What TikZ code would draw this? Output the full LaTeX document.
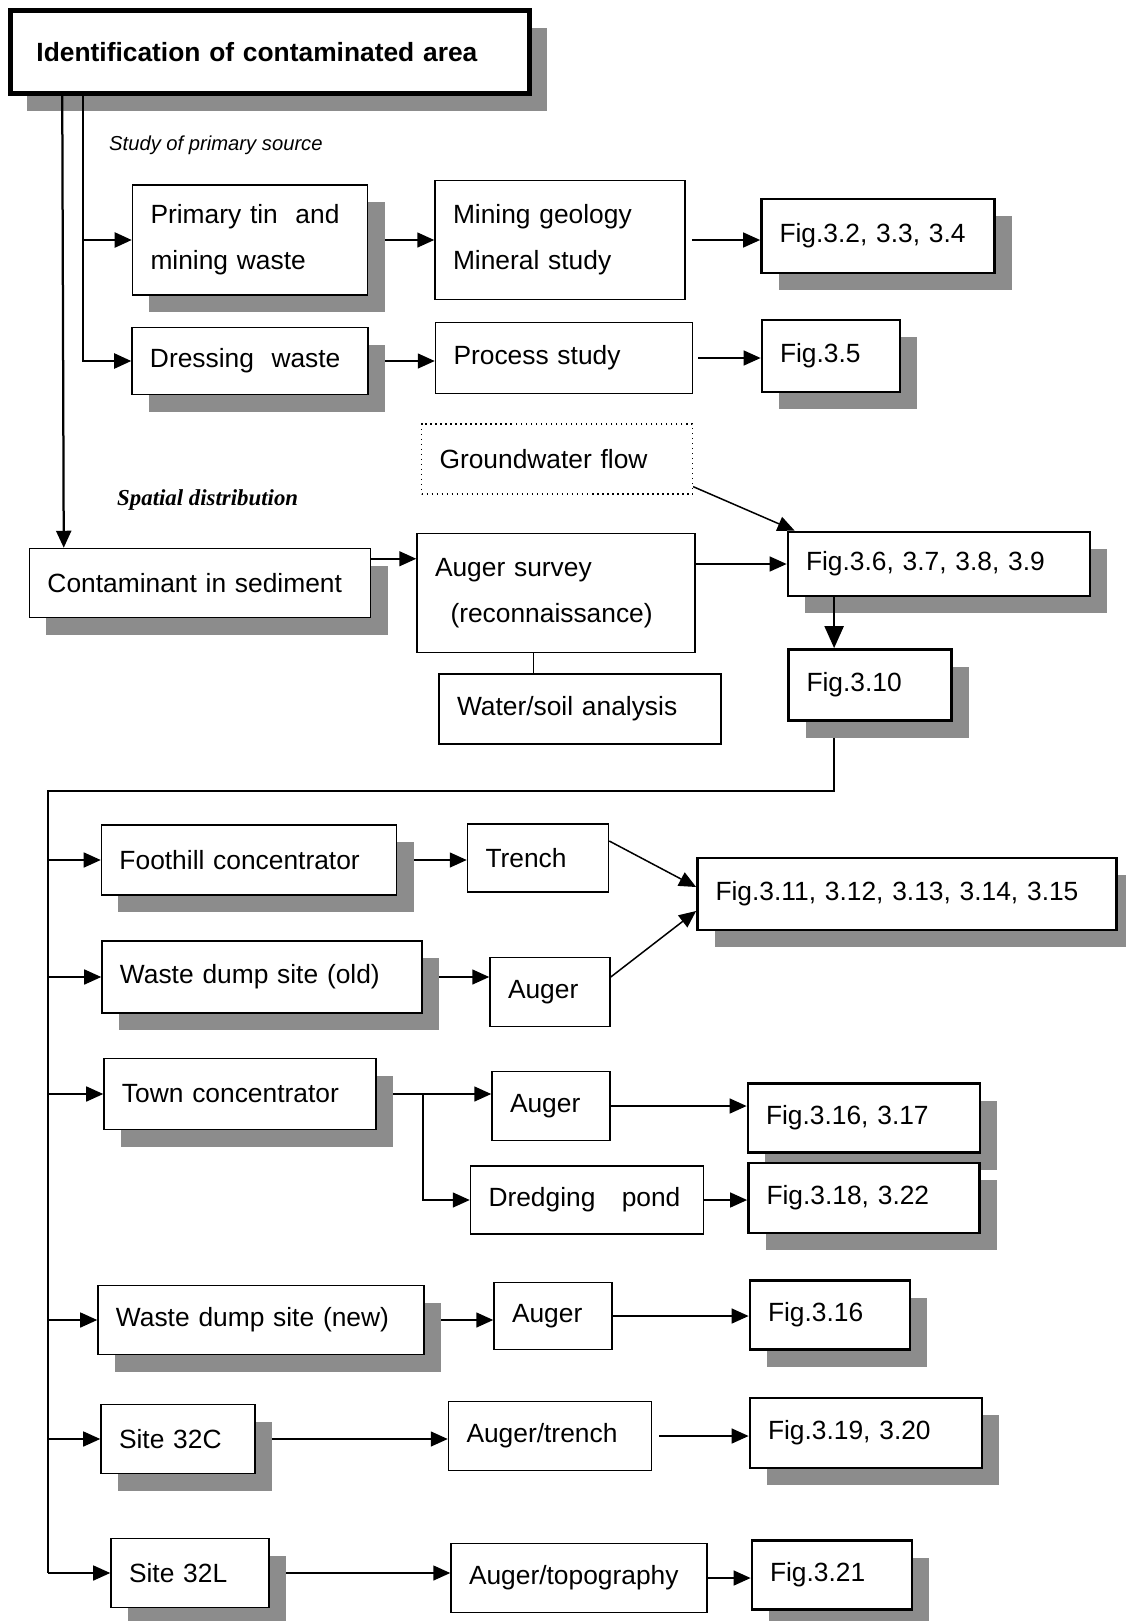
\documentclass[tikz,border=0pt]{standalone}
\usepackage{fontspec}
\setmainfont{Liberation Serif}
\setsansfont{Liberation Sans}
\usetikzlibrary{arrows.meta,shadows,backgrounds,calc}

\begin{document}
\begin{tikzpicture}[
		x=0.2mm, y=-0.2mm,
		font=\sffamily\fontsize{15}{26}\selectfont,
		% Plain step boxes
		stage/.style={draw, fill=white, line width=0.3mm, inner xsep=3.6mm, inner ysep=0pt, align=left},
		% Boxes carrying the halftone drop shadow
		shadowed/.style={stage, drop shadow={shadow xshift=3.4mm, shadow yshift=-3.4mm, fill=black!45, opacity=1}},
		% Figure reference boxes
		figbox/.style={shadowed, line width=0.55mm},
		% Connectors
		link/.style={line width=0.3mm},
		flow/.style={link, -{Triangle[length=3.4mm, width=3mm]}},
		trunk/.style={line width=0.45mm, -{Triangle[length=3.4mm, width=3mm]}},
		bigflow/.style={line width=0.45mm, -{Triangle[length=4.4mm, width=3.8mm]}},
		headstyle/.style={font=\sffamily\itshape\fontsize{11.5}{14}\selectfont, anchor=west},
		spatialstyle/.style={font=\rmfamily\bfseries\itshape\fontsize{13}{16}\selectfont, anchor=west}
		]
		
		\useasboundingbox (0,0) rectangle (1126,1621);
		
		% =========================================================================
		% TOP: identification and primary source
		% =========================================================================
		\node[shadowed, line width=0.9mm, inner xsep=5.2mm, text width=93.4mm, minimum height=16.6mm,
			font=\sffamily\bfseries\fontsize{15}{18}\selectfont] (title) at (270,52) {Identification of contaminated area};
		
		\node[headstyle] (primary) at (103,145) {Study of primary source};
		
		\node[shadowed, text width=39.8mm, minimum height=22mm] (prim) at (250,240) {Primary tin~~and\\mining waste};
		\node[shadowed, text width=40mm, minimum height=13.4mm] (dress) at (250,361) {Dressing~~waste};
		\node[stage, text width=42.8mm, minimum height=23.8mm] (geo) at (560,240) {Mining geology\\Mineral study};
		\node[stage, text width=44.2mm, minimum height=14.2mm] (proc) at (564,358) {Process study};
		\node[figbox, text width=39.4mm, minimum height=14.8mm] (f32) at (878,236) {Fig.3.2, 3.3, 3.4};
		\node[figbox, text width=20.4mm, minimum height=14.4mm] (f35) at (831,356) {Fig.3.5};
		
		% =========================================================================
		% MIDDLE: spatial distribution
		% =========================================================================
		\node[stage, dotted, line width=0.25mm, text width=47mm, minimum height=14mm] (gw) at (557,459) {Groundwater flow};
		\node[spatialstyle] (spatial) at (111,500) {Spatial distribution};
		\node[shadowed, text width=61mm, minimum height=13.8mm] (cont) at (200,583) {Contaminant in sediment};
		\node[stage, text width=48.4mm, minimum height=23.8mm] (aug) at (556,593) {Auger survey\\\hspace*{3.1mm}(reconnaissance)};
		\node[stage, text width=49.2mm, minimum height=14mm] (water) at (580,709) {Water/soil analysis};
		\node[figbox, text width=53.2mm, minimum height=12.8mm] (f36) at (939,564) {Fig.3.6, 3.7, 3.8, 3.9};
		\node[figbox, text width=25.4mm, minimum height=14.2mm] (f310) at (870,685) {Fig.3.10};
		
		% =========================================================================
		% BOTTOM: sites
		% =========================================================================
		\node[shadowed, text width=51.8mm, minimum height=14mm] (foot) at (249,860) {Foothill concentrator};
		\node[stage, text width=21mm, minimum height=13.6mm] (trench) at (538,858) {Trench};
		\node[figbox, text width=76.6mm, minimum height=14.4mm] (f311) at (907,894) {Fig.3.11, 3.12, 3.13, 3.14, 3.15};
		
		\node[shadowed, text width=56.8mm, minimum height=14.4mm] (old) at (262,977) {Waste dump site (old)};
		\node[stage, text width=16.8mm, minimum height=13.8mm] (aug1) at (550,992) {Auger};
		
		\node[shadowed, text width=47.2mm, minimum height=14.2mm] (town) at (240,1094) {Town concentrator};
		\node[stage, text width=16.4mm, minimum height=13.8mm] (aug2) at (551,1106) {Auger};
		\node[figbox, text width=39.2mm, minimum height=13.8mm] (f316a) at (864,1118) {Fig.3.16, 3.17};
		\node[stage, text width=39.4mm, minimum height=13.6mm] (dredge) at (587,1200) {Dredging~~~pond};
		\node[figbox, text width=39mm, minimum height=14mm] (f318) at (864,1198) {Fig.3.18, 3.22};
		
		\node[shadowed, text width=58mm, minimum height=13.8mm] (new) at (261,1320) {Waste dump site (new)};
		\node[stage, text width=16.4mm, minimum height=13.4mm] (aug3) at (553,1316) {Auger};
		\node[figbox, text width=24.8mm, minimum height=13.8mm] (f316) at (830,1315) {Fig.3.16};
		
		\node[shadowed, text width=23.6mm, minimum height=13.8mm] (s32c) at (178,1439) {Site 32C};
		\node[stage, text width=33.4mm, minimum height=13.8mm] (augtr) at (550,1436) {Auger/trench};
		\node[figbox, text width=39.2mm, minimum height=14mm] (f319) at (866,1433) {Fig.3.19, 3.20};
		
		\node[shadowed, text width=24.4mm, minimum height=13.8mm] (s32l) at (190,1573) {Site 32L};
		\node[stage, text width=44mm, minimum height=13.8mm] (augtopo) at (579,1578) {Auger/topography};
		\node[figbox, text width=24.8mm, minimum height=13.8mm] (f321) at (832,1575) {Fig.3.21};
		
		% =========================================================================
		% CONNECTORS
		% =========================================================================
		\coordinate (contout) at ([yshift=-2.2mm]cont.north east);
		\coordinate (augdown) at ($(aug.south west)+(117,0)$);
		\coordinate (f310in) at ($(f310.north west)+(47,0)$);
		\coordinate (busturn) at (48,791);
		\coordinate (townsplit) at ($(town.east)+(46,0)$);
		
		\draw[trunk] ($(title.south west)+(54,0)$) -- ($(cont.north west)+(35,0)$);
		\draw[trunk] ($(title.south west)+(75,0)$) |- (prim.west);
		\draw[trunk] ($(title.south west)+(75,0)$) |- (dress.west);
		\draw[bigflow] (f36.south -| f310in) -- (f310in);
		
		\begin{scope}[on background layer]
			\fill[white] (0,0) rectangle (1126,1621);
			
			\draw[flow] (prim.east) -- (geo.west);
			\draw[flow] ([xshift=1.2mm]geo.east) -- (geo.east -| f32.west);
			\draw[flow] (dress.east) -- (dress.east -| proc.west);
			\draw[flow] ([xshift=1mm]proc.east) -- (proc.east -| f35.west);
			
			\draw[flow] ([yshift=1.6mm]gw.south east) -- ([xshift=1.6mm]f36.north west);
			\draw[flow] (contout) -- (contout -| aug.west);
			\draw[flow] (aug.east |- f36.west) -- (f36.west);
			\draw[link] (augdown) -- (augdown |- water.north);
			
			\draw[link] (f310.south -| f310in) |- (busturn) -- (busturn |- s32l.west);
			\draw[flow] (busturn |- foot.west) -- (foot.west);
			\draw[flow] (busturn |- old.west) -- (old.west);
			\draw[flow] (busturn |- town.west) -- (town.west);
			\draw[flow] (busturn |- new.west) -- (new.west);
			\draw[flow] (busturn |- s32c.west) -- (s32c.west);
			\draw[flow] (busturn |- s32l.west) -- (s32l.west);
			
			\draw[flow] (foot.east) -- (foot.east -| trench.west);
			\draw[flow] ([yshift=3.4mm]trench.east) -- ([yshift=1.4mm]f311.west);
			\draw[flow] (old.east) -- (old.east -| aug1.west);
			\draw[flow] ([yshift=3mm]aug1.east) -- ([yshift=-3.4mm]f311.west);
			
			\draw[flow] (town.east) -- (town.east -| aug2.west);
			\draw[flow] (townsplit) |- (dredge.west);
			\draw[flow] (aug2.east) -- (aug2.east -| f316a.west);
			\draw[flow] (dredge.east) -- (dredge.east -| f318.west);
			
			\draw[flow] (new.east) -- (new.east -| aug3.west);
			\draw[flow] (aug3.east) -- (aug3.east -| f316.west);
			\draw[flow] (s32c.east) -- (s32c.east -| augtr.west);
			\draw[flow] ([xshift=1.4mm]augtr.east) -- (augtr.east -| f319.west);
			\draw[flow] (s32l.east) -- (s32l.east -| augtopo.west);
			\draw[flow] (augtopo.east) -- (augtopo.east -| f321.west);
		\end{scope}
		
	\end{tikzpicture}
\end{document}
